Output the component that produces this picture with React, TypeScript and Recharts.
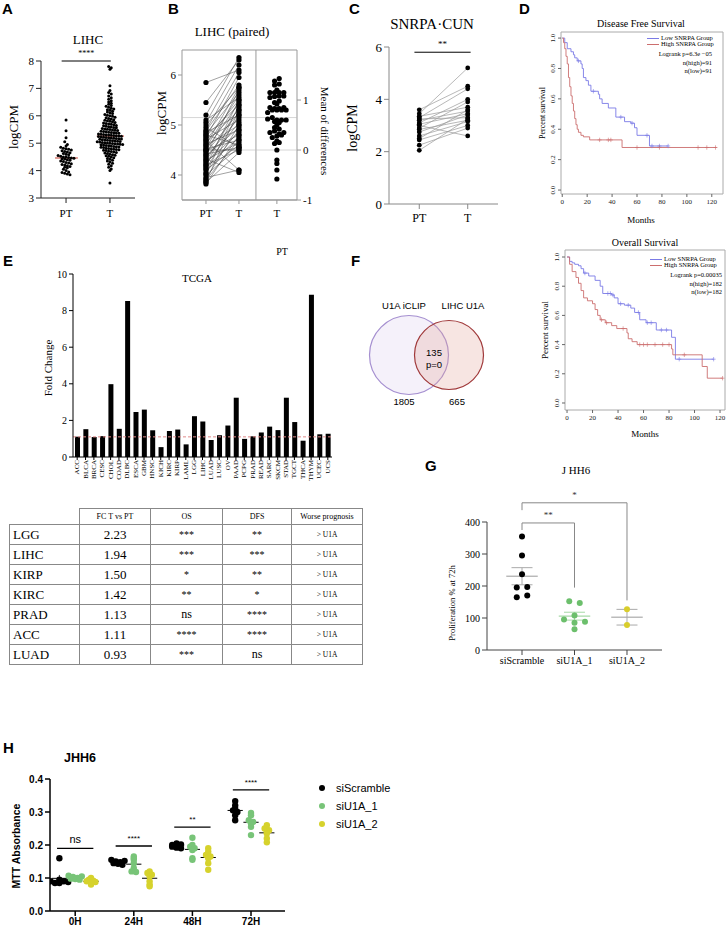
import React from 'react';
import {
  ComposedChart, BarChart, Bar, Line, Scatter, XAxis, YAxis, ReferenceLine, ReferenceArea,
} from 'recharts';

const SERIF = '"Liberation Serif", "Times New Roman", serif';
const SANS = '"Liberation Sans", Arial, sans-serif';

// ---------- Panel A: LIHC ----------
const lihcGroups = ['PT', 'T'];
const lihcPT = [5.85, 5.45, 5.2, 5.05, 4.95, 4.9, 4.85, 4.82, 4.8, 4.78, 4.75, 4.72, 4.7, 4.68, 4.65, 4.62, 4.6, 4.58, 4.55, 4.52, 4.5, 4.5, 4.48, 4.46, 4.45, 4.43, 4.42, 4.4, 4.38, 4.35, 4.33, 4.3, 4.28, 4.25, 4.22, 4.2, 4.18, 4.15, 4.12, 4.1, 4.05, 4.0, 3.95, 3.93, 3.9, 3.88, 3.85];
const lihcT = [7.8, 7.75, 7.7, 7.1, 6.92, 6.85, 6.8, 6.72, 6.66, 6.6, 6.55, 6.5, 6.46, 6.42, 6.38, 6.35, 6.31, 6.28, 6.25, 6.22, 6.2, 6.17, 6.14, 6.11, 6.08, 6.05, 6.02, 6.0, 5.98, 5.95, 5.93, 5.9, 5.88, 5.86, 5.84, 5.82, 5.8, 5.78, 5.76, 5.74, 5.72, 5.7, 5.69, 5.67, 5.65, 5.64, 5.62, 5.6, 5.59, 5.57, 5.56, 5.54, 5.52, 5.51, 5.5, 5.48, 5.47, 5.46, 5.44, 5.43, 5.42, 5.4, 5.39, 5.38, 5.37, 5.36, 5.34, 5.33, 5.32, 5.31, 5.3, 5.29, 5.28, 5.27, 5.26, 5.25, 5.24, 5.23, 5.22, 5.21, 5.2, 5.19, 5.18, 5.17, 5.16, 5.15, 5.14, 5.13, 5.12, 5.11, 5.1, 5.09, 5.08, 5.07, 5.06, 5.05, 5.04, 5.03, 5.02, 5.01, 5.0, 4.99, 4.98, 4.97, 4.96, 4.95, 4.94, 4.93, 4.92, 4.91, 4.9, 4.88, 4.87, 4.86, 4.85, 4.84, 4.82, 4.81, 4.8, 4.78, 4.77, 4.76, 4.74, 4.73, 4.71, 4.7, 4.68, 4.66, 4.64, 4.62, 4.6, 4.58, 4.56, 4.54, 4.52, 4.5, 4.47, 4.44, 4.41, 4.38, 4.35, 4.31, 4.27, 4.23, 4.18, 4.12, 4.06, 4.0, 3.55];

// ---------- Panel B: LIHC paired ----------
const pairedGroups = ['PT', 'T', 'T'];
const pairedPT = [5.85, 5.45, 5.2, 5.1, 5.05, 5.0, 4.95, 4.9, 4.88, 4.85, 4.82, 4.8, 4.78, 4.75, 4.72, 4.7, 4.68, 4.65, 4.62, 4.6, 4.58, 4.55, 4.52, 4.5, 4.48, 4.45, 4.42, 4.4, 4.38, 4.35, 4.32, 4.3, 4.28, 4.25, 4.22, 4.2, 4.18, 4.15, 4.12, 4.1, 4.05, 4.02, 4.0, 3.95, 3.92, 3.9, 3.87, 3.85, 3.82, 4.5];
const pairedT = [6.1, 6.3, 6.35, 5.55, 6.2, 5.75, 4.55, 6.05, 5.8, 5.2, 5.65, 4.6, 5.4, 5.95, 5.1, 5.5, 4.1, 5.3, 4.9, 5.75, 5.0, 5.6, 4.7, 5.45, 4.8, 5.25, 4.55, 5.7, 4.95, 5.15, 4.05, 4.65, 5.35, 4.85, 5.05, 4.5, 5.5, 4.75, 5.2, 4.6, 4.9, 5.4, 4.55, 4.1, 5.0, 4.7, 5.3, 4.45, 4.8, 4.5];

// ---------- Panel C: SNRPA CUN ----------
const cunGroups = ['PT', 'T'];
const cunPT = [3.6, 3.45, 3.35, 3.3, 3.25, 3.2, 3.1, 3.05, 3.0, 2.9, 2.85, 2.75, 2.6, 2.5, 2.45, 2.25, 2.05];
const cunT = [4.5, 5.2, 3.7, 4.4, 3.3, 3.55, 4.0, 3.45, 2.6, 3.9, 3.2, 3.4, 3.15, 3.6, 3.0, 2.9, 3.25];

// ---------- Panel D: survival ----------
const dfsLowTime = [0, 2, 4, 7, 9, 10, 12, 15, 16, 17, 19, 21, 23, 29, 30, 32, 37, 43, 50, 55, 58, 60, 70, 85];
const dfsLowSurv = [1, 0.97, 0.93, 0.91, 0.89, 0.87, 0.85, 0.83, 0.8, 0.74, 0.72, 0.69, 0.65, 0.63, 0.6, 0.57, 0.54, 0.48, 0.45, 0.44, 0.41, 0.36, 0.29, 0.29];
const dfsHighTime = [0, 1, 2, 3, 4, 5, 6, 7, 8, 9, 10, 11, 12, 13, 15, 17, 22, 48, 124];
const dfsHighSurv = [1, 0.97, 0.93, 0.88, 0.83, 0.74, 0.68, 0.62, 0.57, 0.52, 0.47, 0.43, 0.4, 0.38, 0.36, 0.35, 0.33, 0.28, 0.28];
const dfsLowCensor = [13, 25, 47, 56, 68, 72, 78, 85];
const dfsHighCensor = [30, 37, 39, 60, 78, 109, 116, 123];
const osLowTime = [0, 2, 4, 6, 9, 11, 13, 17, 22, 26, 28, 35, 37, 40, 45, 50, 53, 57, 62, 70, 82, 85, 115];
const osLowSurv = [1, 0.97, 0.96, 0.95, 0.94, 0.92, 0.89, 0.87, 0.84, 0.8, 0.75, 0.74, 0.72, 0.68, 0.67, 0.65, 0.62, 0.57, 0.55, 0.5, 0.45, 0.3, 0.3];
const osHighTime = [0, 2, 4, 7, 9, 11, 13, 16, 20, 22, 24, 26, 30, 35, 39, 47, 48, 51, 55, 82, 83, 106, 110, 122];
const osHighSurv = [1, 0.95, 0.9, 0.86, 0.82, 0.77, 0.72, 0.7, 0.68, 0.64, 0.6, 0.57, 0.55, 0.53, 0.51, 0.48, 0.44, 0.42, 0.4, 0.37, 0.33, 0.25, 0.17, 0.17];
const osLowCensor = [14, 32, 34, 36, 42, 48, 56, 63, 66, 74, 78, 88, 115];
const osHighCensor = [27, 31, 44, 57, 60, 63, 69, 75, 80, 92, 122];
const survTicksX = [0, 20, 40, 60, 80, 100, 120];
const survTicksY = [0, 0.2, 0.4, 0.6, 0.8, 1.0];

// ---------- Panel E: TCGA ----------
const tcgaCancers = ['ACC', 'BLCA', 'BRCA', 'CESC', 'CHOL', 'COAD', 'DLBC', 'ESCA', 'GBM', 'HNSC', 'KICH', 'KIRC', 'KIRP', 'LAML', 'LGG', 'LIHC', 'LUAD', 'LUSC', 'OV', 'PAAD', 'PCPG', 'PRAD', 'READ', 'SARC', 'SKCM', 'STAD', 'TGCT', 'THCA', 'THYM', 'UCEC', 'UCS'];
const tcgaFC = [1.11, 1.52, 1.09, 1.14, 3.98, 1.54, 8.52, 2.46, 2.59, 1.46, 0.54, 1.42, 1.5, 0.69, 2.23, 1.94, 0.93, 1.19, 1.72, 3.24, 0.99, 1.13, 1.34, 1.66, 1.47, 3.24, 1.91, 0.89, 8.87, 1.24, 1.27];
const tcgaThreshold = 1.1;
const tableHeader = ['', 'FC T vs PT', 'OS', 'DFS', 'Worse prognosis'];
const tableCancers = ['LGG', 'LIHC', 'KIRP', 'KIRC', 'PRAD', 'ACC', 'LUAD'];
const tableFC = ['2.23', '1.94', '1.50', '1.42', '1.13', '1.11', '0.93'];
const tableOS = ['***', '***', '*', '**', 'ns', '****', '***'];
const tableDFS = ['**', '***', '**', '*', '****', '****', 'ns'];
const tablePrognosis = ['> U1A', '> U1A', '> U1A', '> U1A', '> U1A', '> U1A', '> U1A'];

// ---------- Panel F: Venn ----------
const vennSets = ['U1A iCLIP', 'LIHC U1A'];
const vennOnly = [1805, 665];
const vennShared = 135;
const vennP = 'p=0';

// ---------- Panel G: proliferation ----------
const prolifGroups = ['siScramble', 'siU1A_1', 'siU1A_2'];
const prolifScramble = [355, 295, 237, 195, 197, 165, 170];
const prolifU1A1 = [152, 147, 95, 108, 85, 88, 65];
const prolifU1A2 = [127, 78];

// ---------- Panel H: MTT ----------
const mttTimes = ['0H', '24H', '48H', '72H'];
const mttSeries = ['siScramble', 'siU1A_1', 'siU1A_2'];
const mttScramble = [
  [0.16, 0.095, 0.09, 0.085, 0.085, 0.09, 0.088],
  [0.155, 0.15, 0.148, 0.145, 0.143, 0.14, 0.152],
  [0.205, 0.2, 0.198, 0.195, 0.192, 0.19, 0.202],
  [0.333, 0.32, 0.31, 0.305, 0.3, 0.29, 0.275],
];
const mttU1A1 = [
  [0.107, 0.103, 0.1, 0.098, 0.105, 0.097, 0.095],
  [0.165, 0.16, 0.155, 0.145, 0.13, 0.12, 0.118],
  [0.222, 0.2, 0.195, 0.19, 0.185, 0.16, 0.155],
  [0.297, 0.29, 0.275, 0.27, 0.265, 0.255, 0.23],
];
const mttU1A2 = [
  [0.1, 0.095, 0.09, 0.085, 0.08, 0.092, 0.088],
  [0.12, 0.115, 0.11, 0.105, 0.09, 0.08, 0.075],
  [0.19, 0.18, 0.17, 0.165, 0.16, 0.145, 0.125],
  [0.26, 0.25, 0.245, 0.24, 0.235, 0.22, 0.208],
];
const mttSigLabels = ['ns', '****', '**', '****'];
const mttSigLevels = [0.19, 0.197, 0.254, 0.367];

// ---------- helpers ----------
const mean = (a: number[]) => a.reduce((s, v) => s + v, 0) / a.length;
const median = (a: number[]) => {
  const s = [...a].sort((p, q) => p - q);
  const m = Math.floor(s.length / 2);
  return s.length % 2 ? s[m] : (s[m - 1] + s[m]) / 2;
};
const sem = (a: number[]) => {
  const m = mean(a);
  const v = a.reduce((s, x) => s + (x - m) * (x - m), 0) / (a.length - 1);
  return Math.sqrt(v) / Math.sqrt(a.length);
};
// deterministic beeswarm layout: values in the same bin are spread horizontally
function swarm(values: number[], center: number, bin: number, step: number) {
  const bins = new Map<number, number[]>();
  values.forEach((v) => {
    const k = Math.round(v / bin);
    if (!bins.has(k)) bins.set(k, []);
    bins.get(k)!.push(v);
  });
  const out: { x: number; y: number }[] = [];
  bins.forEach((list) => {
    const n = list.length;
    list.forEach((v, i) => out.push({ x: center + (i - (n - 1) / 2) * step, y: v }));
  });
  return out;
}
const stepAt = (times: number[], surv: number[], t: number) => {
  let s = surv[0];
  times.forEach((tt, i) => { if (tt <= t) s = surv[i]; });
  return s;
};
const dot = (r: number, fill: string) => (p: any) =>
  p.cx == null ? <g /> : <circle cx={p.cx} cy={p.cy} r={r} fill={fill} />;
const plus = (color: string) => (p: any) =>
  p.cx == null ? <g /> : (
    <path d={`M${p.cx - 2},${p.cy}H${p.cx + 2}M${p.cx},${p.cy - 2.2}V${p.cy + 2.2}`} stroke={color} strokeWidth={0.6} fill="none" />
  );

const Txt = (props: any) => {
  const { x, y, children, size = 11, family = SERIF, weight = 400, rot = 0, anchor = 'middle', color = '#000' } = props;
  const tx = anchor === 'middle' ? '-50%' : anchor === 'end' ? '-100%' : '0';
  return (
    <div style={{
      position: 'absolute', left: x, top: y, transform: `translate(${tx},-50%) rotate(${rot}deg)`,
      fontSize: size, fontFamily: family, fontWeight: weight, whiteSpace: 'nowrap', lineHeight: 1, color,
    }}>{children}</div>
  );
};
const PanelLabel = ({ x, y, t }: any) => <Txt x={x} y={y} size={15} family={SANS} weight={700} anchor="start">{t}</Txt>;

const serifTick = (size: number, fill = '#000') => ({ fontSize: size, fill, fontFamily: SERIF });

// ---------- Panel A ----------
function PanelA() {
  const pts = [...swarm(lihcPT, 0, 0.1, 0.06), ...swarm(lihcT, 1, 0.1, 0.058)];
  const mPT = median(lihcPT);
  const mT = median(lihcT);
  return (
    <div style={{ position: 'absolute', left: 0, top: 0 }}>
      <ComposedChart width={170} height={224} margin={{ top: 61, right: 35, bottom: 0, left: 0 }}>
        <XAxis type="number" dataKey="x" domain={[-0.57, 1.57]} ticks={[0, 1]} tickFormatter={(v: any) => lihcGroups[v]}
          height={26} allowDataOverflow stroke="#222" tick={serifTick(11)} tickSize={5} tickMargin={6} />
        <YAxis type="number" dataKey="y" domain={[3, 8]} ticks={[3, 4, 5, 6, 7, 8]} width={41} allowDataOverflow
          stroke="#222" tick={serifTick(11)} tickSize={5} />
        <Scatter data={pts} dataKey="y" shape={dot(1.5, '#000')} isAnimationActive={false} />
        <ReferenceLine segment={[{ x: -0.25, y: mPT }, { x: 0.27, y: mPT }]} stroke="#c0392b" strokeWidth={1} />
        <ReferenceLine segment={[{ x: 0.7, y: mT }, { x: 1.32, y: mT }]} stroke="#c0392b" strokeWidth={1} />
        <ReferenceLine segment={[{ x: -0.1, y: 8 }, { x: 1.02, y: 8 }]} stroke="#000" ifOverflow="visible"
          label={{ value: '****', position: 'top', fontSize: 8, fill: '#000' }} />
      </ComposedChart>
    </div>
  );
}

// ---------- Panel B ----------
function PanelB() {
  const mPT = mean(pairedPT);
  const mT = mean(pairedT);
  const diffs = pairedPT.map((p, i) => pairedT[i] - p);
  const rDom = [3.5 - mPT, 6.5 - mPT];
  const ptDots = pairedPT.map((v) => ({ x: 0, y: v }));
  const tDots = pairedT.map((v) => ({ x: 1, y: v }));
  const diffDots = swarm(diffs, 2.15, 0.07, 0.14);
  return (
    <div style={{ position: 'absolute', left: 130, top: 0 }}>
      <ComposedChart width={187} height={226} margin={{ top: 50, right: 0, bottom: 0, left: 0 }}>
        <XAxis type="number" dataKey="x" domain={[-0.727, 2.76]} ticks={[0, 1, 2.15]}
          tickFormatter={(v: any) => pairedGroups[v === 0 ? 0 : v === 1 ? 1 : 2]}
          height={26} allowDataOverflow stroke="#999" tick={serifTick(11)} tickSize={4} tickMargin={5} />
        <YAxis yAxisId="l" type="number" dataKey="y" domain={[3.5, 6.5]} ticks={[4, 5, 6]} width={52} allowDataOverflow
          axisLine={false} tickLine={{ stroke: '#999' }} tickSize={4} tick={serifTick(11)} />
        <YAxis yAxisId="r" orientation="right" type="number" dataKey="y" domain={rDom} ticks={[-1, 0, 1]} width={20}
          allowDataOverflow axisLine={false} tickLine={{ stroke: '#999' }} tickSize={4} tick={serifTick(11)} />
        <ReferenceArea yAxisId="l" x1={-0.727} x2={2.76} y1={3.5} y2={6.5} fill="none" stroke="#999" ifOverflow="visible" />
        <ReferenceLine yAxisId="l" x={1.515} stroke="#999" />
        <ReferenceLine yAxisId="l" y={mPT} stroke="#bbb" strokeWidth={0.6} />
        <ReferenceLine yAxisId="l" y={mT} stroke="#bbb" strokeWidth={0.6} />
        {pairedPT.map((p, i) => (
          <Line key={i} yAxisId="l" data={[{ x: 0, y: p }, { x: 1, y: pairedT[i] }]} dataKey="y" stroke="#444"
            strokeWidth={0.5} dot={false} isAnimationActive={false} />
        ))}
        <Scatter yAxisId="l" data={ptDots} dataKey="y" shape={dot(2.6, '#000')} isAnimationActive={false} />
        <Scatter yAxisId="l" data={tDots} dataKey="y" shape={dot(2.6, '#000')} isAnimationActive={false} />
        <Scatter yAxisId="r" data={diffDots} dataKey="y" shape={dot(2.6, '#000')} isAnimationActive={false} />
      </ComposedChart>
    </div>
  );
}

// ---------- Panel C ----------
function PanelC() {
  const ptDots = cunPT.map((v) => ({ x: 0, y: v }));
  const tDots = cunT.map((v) => ({ x: 1, y: v }));
  return (
    <div style={{ position: 'absolute', left: 360, top: 0 }}>
      <ComposedChart width={138} height={228} margin={{ top: 47, right: 0, bottom: 0, left: 0 }}>
        <XAxis type="number" dataKey="x" domain={[-0.625, 1.625]} ticks={[0, 1]} tickFormatter={(v: any) => cunGroups[v]}
          height={24} allowDataOverflow stroke="#888" tick={serifTick(12)} tickSize={5} tickMargin={4} />
        <YAxis type="number" dataKey="y" domain={[0, 6]} ticks={[0, 2, 4, 6]} width={29} allowDataOverflow
          stroke="#888" tick={serifTick(13)} tickSize={5} />
        {cunPT.map((p, i) => (
          <Line key={i} data={[{ x: 0, y: p }, { x: 1, y: cunT[i] }]} dataKey="y" stroke="#999"
            strokeWidth={0.7} dot={false} isAnimationActive={false} />
        ))}
        <Scatter data={ptDots} dataKey="y" shape={dot(2.4, '#000')} isAnimationActive={false} />
        <Scatter data={tDots} dataKey="y" shape={dot(2.4, '#000')} isAnimationActive={false} />
        <ReferenceLine segment={[{ x: -0.1, y: 5.8 }, { x: 1.06, y: 5.8 }]} stroke="#000" ifOverflow="visible"
          label={{ value: '**', position: 'top', fontSize: 9, fill: '#000' }} />
      </ComposedChart>
    </div>
  );
}

// ---------- Panel D ----------
const BLUE = '#7b7be6';
const RED = '#cc6e6e';
const YRotTick = (p: any) => (
  <text x={p.x - 1} y={p.y} transform={`rotate(-90 ${p.x - 1} ${p.y})`} textAnchor="middle" fontSize={7}
    fontFamily={SERIF} fill="#222">{Number(p.payload.value).toFixed(1)}</text>
);
function KM(props: any) {
  const { left, top, width, height, mTop, yW, xDom, yDom, lowT, lowS, highT, highS, lowC, highC } = props;
  const lowData = lowT.map((t: number, i: number) => ({ x: t, y: lowS[i] }));
  const highData = highT.map((t: number, i: number) => ({ x: t, y: highS[i] }));
  const lowCens = lowC.map((t: number) => ({ x: t, y: stepAt(lowT, lowS, t) }));
  const highCens = highC.map((t: number) => ({ x: t, y: stepAt(highT, highS, t) }));
  return (
    <div style={{ position: 'absolute', left, top }}>
      <ComposedChart width={width} height={height} margin={{ top: mTop, right: 1, bottom: 0, left: 0 }}>
        <XAxis type="number" dataKey="x" domain={xDom} ticks={survTicksX} height={18} allowDataOverflow
          axisLine={false} tickLine={{ stroke: '#666' }} tickSize={3} tick={serifTick(7, '#222')} />
        <YAxis type="number" dataKey="y" domain={yDom} ticks={survTicksY} width={yW} allowDataOverflow
          axisLine={false} tickLine={{ stroke: '#666' }} tickSize={3} tick={<YRotTick />} />
        <ReferenceArea x1={xDom[0]} x2={xDom[1]} y1={yDom[0]} y2={yDom[1]} fill="none" stroke="#aaa" ifOverflow="visible" />
        <Line data={lowData} dataKey="y" type="stepAfter" stroke={BLUE} strokeWidth={0.9} dot={false} isAnimationActive={false} />
        <Line data={highData} dataKey="y" type="stepAfter" stroke={RED} strokeWidth={0.9} dot={false} isAnimationActive={false} />
        <Scatter data={lowCens} dataKey="y" shape={plus(BLUE)} isAnimationActive={false} />
        <Scatter data={highCens} dataKey="y" shape={plus(RED)} isAnimationActive={false} />
      </ComposedChart>
    </div>
  );
}
const KMLegend = ({ x, y, rightX, stats }: any) => (
  <>
    <div style={{ position: 'absolute', left: x, top: y, width: 12, borderTop: `1px solid ${BLUE}` }} />
    <div style={{ position: 'absolute', left: x, top: y + 6, width: 12, borderTop: `1px solid ${RED}` }} />
    <Txt x={x + 14} y={y} size={6.5} anchor="start">Low SNRPA Group</Txt>
    <Txt x={x + 14} y={y + 6} size={6.5} anchor="start">High SNRPA Group</Txt>
    {stats.map((s: string, i: number) => (
      <Txt key={i} x={rightX} y={y + 16 + i * 8.5} size={6.5} anchor="end">{s}</Txt>
    ))}
  </>
);

// ---------- Panel E ----------
const RotTick = (p: any) => (
  <text x={p.x + 2} y={p.y - 2} transform={`rotate(-90 ${p.x + 2} ${p.y - 2})`} textAnchor="end" fontSize={7}
    fontFamily={SERIF} fill="#000">{p.payload.value}</text>
);
function PanelE() {
  const data = tcgaCancers.map((c, i) => ({ name: c, fc: tcgaFC[i] }));
  return (
    <div style={{ position: 'absolute', left: 0, top: 250 }}>
      <BarChart width={340} height={252} data={data} margin={{ top: 24, right: 8, bottom: 0, left: 0 }} barCategoryGap={1}>
        <XAxis dataKey="name" interval={0} height={45} stroke="#000" tick={<RotTick />} tickSize={3} />
        <YAxis domain={[0, 10]} ticks={[0, 2, 4, 6, 8, 10]} width={73} allowDataOverflow stroke="#000"
          tick={serifTick(10)} tickSize={4} />
        <Bar dataKey="fc" fill="#000" barSize={5} isAnimationActive={false} />
        <ReferenceLine y={tcgaThreshold} stroke="#e08a8a" strokeDasharray="3 2" strokeWidth={1} />
      </BarChart>
    </div>
  );
}
function TableE() {
  const cell: any = { border: '1px solid #888', padding: 0, textAlign: 'center', fontFamily: SERIF, verticalAlign: 'middle' };
  const widths = [70, 71, 72, 69, 71];
  return (
    <table style={{ position: 'absolute', left: 9, top: 508, borderCollapse: 'collapse', tableLayout: 'fixed', width: 353 }}>
      <colgroup>{widths.map((w, i) => <col key={i} style={{ width: w }} />)}</colgroup>
      <tbody>
        <tr style={{ height: 16 }}>
          {tableHeader.map((h, i) => (
            <td key={i} style={i === 0 ? { ...cell, borderTop: 'none', borderLeft: 'none' } : { ...cell, fontSize: 8 }}>{h}</td>
          ))}
        </tr>
        {tableCancers.map((c, i) => (
          <tr key={c} style={{ height: 20 }}>
            <td style={{ ...cell, textAlign: 'left', paddingLeft: 3, fontSize: 13 }}>{c}</td>
            <td style={{ ...cell, fontSize: 13 }}>{tableFC[i]}</td>
            <td style={{ ...cell, fontSize: tableOS[i] === 'ns' ? 12 : 10 }}>{tableOS[i]}</td>
            <td style={{ ...cell, fontSize: tableDFS[i] === 'ns' ? 12 : 10 }}>{tableDFS[i]}</td>
            <td style={{ ...cell, fontSize: 7.5 }}>{tablePrognosis[i]}</td>
          </tr>
        ))}
      </tbody>
    </table>
  );
}

// ---------- Panel F ----------
function PanelF() {
  const circles = [
    { x: 49, y: 65, r: 39.5, fill: 'rgba(215,200,235,0.25)', stroke: '#a58fd0' },
    { x: 89, y: 65, r: 34.5, fill: 'rgba(225,160,150,0.28)', stroke: '#a0393a' },
  ];
  const shape = (p: any) => {
    const c = p.payload;
    return <circle cx={p.cx} cy={p.cy} r={c.r} fill={c.fill} stroke={c.stroke} strokeWidth={1.2} />;
  };
  return (
    <div style={{ position: 'absolute', left: 360, top: 290 }}>
      <ComposedChart width={140} height={130} margin={{ top: 0, right: 0, bottom: 0, left: 0 }}>
        <XAxis type="number" dataKey="x" domain={[0, 140]} hide allowDataOverflow />
        <YAxis type="number" dataKey="y" domain={[0, 130]} hide allowDataOverflow />
        <Scatter data={circles} dataKey="y" shape={shape} isAnimationActive={false} />
      </ComposedChart>
    </div>
  );
}

// ---------- Panel G ----------
function PanelG() {
  const groups = [prolifScramble, prolifU1A1, prolifU1A2];
  const colors = ['#000', '#6cbf6c', '#d8cd2c'];
  const lineColors = ['#aaa', '#a6d9a6', '#aaa'];
  return (
    <div style={{ position: 'absolute', left: 430, top: 440 }}>
      <ComposedChart width={242} height={230} margin={{ top: 82, right: 10, bottom: 0, left: 0 }}>
        <XAxis type="number" dataKey="x" domain={[-0.667, 2.667]} ticks={[0, 1, 2]} tickFormatter={(v: any) => prolifGroups[v]}
          height={20} allowDataOverflow stroke="#444" tick={serifTick(10)} tickSize={5} />
        <YAxis type="number" dataKey="y" domain={[0, 400]} ticks={[0, 100, 200, 300, 400]} width={57} allowDataOverflow
          stroke="#444" tick={serifTick(10)} tickSize={5} />
        {groups.map((g, i) => {
          const m = mean(g);
          const s = sem(g);
          return (
            <React.Fragment key={i}>
              <ReferenceLine segment={[{ x: i - 0.3, y: m }, { x: i + 0.3, y: m }]} stroke={lineColors[i]} strokeWidth={1.2} />
              <ReferenceLine segment={[{ x: i, y: m - s }, { x: i, y: m + s }]} stroke={lineColors[i]} strokeWidth={1} />
              <ReferenceLine segment={[{ x: i - 0.2, y: m + s }, { x: i + 0.2, y: m + s }]} stroke={lineColors[i]} strokeWidth={1} />
              <ReferenceLine segment={[{ x: i - 0.2, y: m - s }, { x: i + 0.2, y: m - s }]} stroke={lineColors[i]} strokeWidth={1} />
            </React.Fragment>
          );
        })}
        {groups.map((g, i) => (
          <Scatter key={i} data={swarm(g, i, 15, 0.2)} dataKey="y" shape={dot(3, colors[i])} isAnimationActive={false} />
        ))}
        <ReferenceLine segment={[{ x: 0, y: 397 }, { x: 1, y: 397 }]} stroke="#888" ifOverflow="visible"
          label={{ value: '**', position: 'top', fontSize: 9, fill: '#333' }} />
        <ReferenceLine segment={[{ x: 0, y: 397 }, { x: 0, y: 375 }]} stroke="#888" ifOverflow="visible" />
        <ReferenceLine segment={[{ x: 1, y: 397 }, { x: 1, y: 195 }]} stroke="#888" ifOverflow="visible" />
        <ReferenceLine segment={[{ x: 0, y: 460 }, { x: 2, y: 460 }]} stroke="#888" ifOverflow="visible"
          label={{ value: '*', position: 'top', fontSize: 9, fill: '#333' }} />
        <ReferenceLine segment={[{ x: 0, y: 460 }, { x: 0, y: 437 }]} stroke="#888" ifOverflow="visible" />
        <ReferenceLine segment={[{ x: 2, y: 460 }, { x: 2, y: 155 }]} stroke="#888" ifOverflow="visible" />
      </ComposedChart>
    </div>
  );
}

// ---------- Panel H ----------
function PanelH() {
  const series = [mttScramble, mttU1A1, mttU1A2];
  const colors = ['#000', '#78c478', '#d6d22c'];
  const offsets = [-0.27, 0, 0.27];
  const boldTick = (size: number) => ({ fontSize: size, fill: '#000', fontFamily: SANS, fontWeight: 700 });
  return (
    <div style={{ position: 'absolute', left: 0, top: 740 }}>
      <ComposedChart width={290} height={193} margin={{ top: 39, right: 5, bottom: 0, left: 0 }}>
        <XAxis type="number" dataKey="x" domain={[-0.43, 3.58]} ticks={[0, 1, 2, 3]} tickFormatter={(v: any) => mttTimes[v]}
          height={22} allowDataOverflow stroke="#000" strokeWidth={1.5} tick={boldTick(10)} tickSize={5} />
        <YAxis type="number" dataKey="y" domain={[0, 0.4]} ticks={[0, 0.1, 0.2, 0.3, 0.4]} tickFormatter={(v: any) => Number(v).toFixed(1)}
          width={50} allowDataOverflow stroke="#000" strokeWidth={1.5} tick={boldTick(10)} tickSize={5} />
        {series.map((s, k) => (
          <Scatter key={k}
            data={s.flatMap((vals, t) => swarm(vals, t + offsets[k], 0.008, 0.075))}
            dataKey="y" shape={dot(3.2, colors[k])} isAnimationActive={false} />
        ))}
        {series.map((s, k) => s.map((vals, t) => {
          const m = mean(vals);
          const e = sem(vals);
          const cx = t + offsets[k];
          return (
            <React.Fragment key={`${k}-${t}`}>
              <ReferenceLine segment={[{ x: cx - 0.13, y: m }, { x: cx + 0.13, y: m }]} stroke="#000" strokeWidth={1} />
              <ReferenceLine segment={[{ x: cx, y: m - e }, { x: cx, y: m + e }]} stroke="#000" strokeWidth={0.8} />
            </React.Fragment>
          );
        }))}
        {mttSigLevels.map((lv, t) => (
          <ReferenceLine key={t} segment={[{ x: t - 0.31, y: lv }, { x: t + 0.31, y: lv }]} stroke="#000" strokeWidth={1.3}
            ifOverflow="visible"
            label={{ value: mttSigLabels[t], position: 'top', fontSize: t === 0 ? 11 : 8, fill: '#000', fontFamily: SANS }} />
        ))}
      </ComposedChart>
    </div>
  );
}

export default function App() {
  const hColors = ['#000', '#78c478', '#d6d22c'];
  return (
    <div style={{ position: 'absolute', left: 0, top: 0, width: 726, height: 939, background: '#fff', overflow: 'hidden', fontFamily: SERIF }}>
      {/* Panel labels */}
      <PanelLabel x={2} y={8} t="A" />
      <PanelLabel x={168} y={8} t="B" />
      <PanelLabel x={349} y={8} t="C" />
      <PanelLabel x={519} y={8} t="D" />
      <PanelLabel x={3} y={260} t="E" />
      <PanelLabel x={351} y={260} t="F" />
      <PanelLabel x={425} y={465} t="G" />
      <PanelLabel x={3} y={747} t="H" />

      {/* A */}
      <Txt x={88} y={39} size={13}>LIHC</Txt>
      <Txt x={13} y={127} size={13} rot={-90}>logCPM</Txt>
      <PanelA />

      {/* B */}
      <Txt x={232} y={31} size={13}>LIHC (paired)</Txt>
      <Txt x={161} y={113} size={13} rot={-90}>logCPM</Txt>
      <Txt x={324} y={131} size={11} rot={90}>Mean of differences</Txt>
      <PanelB />

      {/* C */}
      <Txt x={432} y={24} size={15}>SNRPA·CUN</Txt>
      <Txt x={353} y={128} size={14} rot={-90}>logCPM</Txt>
      <PanelC />

      {/* D */}
      <Txt x={641} y={24} size={10}>Disease Free Survival</Txt>
      <Txt x={543} y={113} size={8} rot={-90}>Percent survival</Txt>
      <Txt x={641} y={220} size={9}>Months</Txt>
      <KM left={540} top={0} width={184} height={212} mTop={32} yW={21} xDom={[-1, 129]} yDom={[-0.026, 1.04]}
        lowT={dfsLowTime} lowS={dfsLowSurv} highT={dfsHighTime} highS={dfsHighSurv} lowC={dfsLowCensor} highC={dfsHighCensor} />
      <KMLegend x={647} y={38} rightX={712} stats={['Logrank p=6.3e \u221205', 'n(high)=91', 'n(low)=91']} />

      <Txt x={645} y={243} size={10}>Overall Survival</Txt>
      <Txt x={545} y={330} size={9} rot={-90}>Percent survival</Txt>
      <Txt x={645} y={434} size={9}>Months</Txt>
      <KM left={540} top={230} width={186} height={198} mTop={20} yW={25} xDom={[-1.6, 123.9]} yDom={[-0.048, 1.048]}
        lowT={osLowTime} lowS={osLowSurv} highT={osHighTime} highS={osHighSurv} lowC={osLowCensor} highC={osHighCensor} />
      <KMLegend x={650} y={259} rightX={722} stats={['Logrank p=0.00035', 'n(high)=182', 'n(low)=182']} />

      {/* E */}
      <Txt x={282} y={252} size={10}>PT</Txt>
      <Txt x={197} y={278} size={11}>TCGA</Txt>
      <Txt x={48} y={368} size={11} rot={-90}>Fold Change</Txt>
      <PanelE />
      <TableE />

      {/* F */}
      <PanelF />
      <Txt x={404} y={306} size={9.5} family={SANS}>{vennSets[0]}</Txt>
      <Txt x={463} y={306} size={9.5} family={SANS}>{vennSets[1]}</Txt>
      <Txt x={434} y={353} size={9.5} family={SANS}>{vennShared}</Txt>
      <Txt x={434} y={365} size={9.5} family={SANS}>{vennP}</Txt>
      <Txt x={404} y={402} size={9.5} family={SANS}>{vennOnly[0]}</Txt>
      <Txt x={457} y={402} size={9.5} family={SANS}>{vennOnly[1]}</Txt>

      {/* G */}
      <Txt x={576} y={470} size={11}>J HH6</Txt>
      <Txt x={452} y={603} size={8.5} rot={-90}>Proliferation % at 72h</Txt>
      <PanelG />

      {/* H */}
      <Txt x={80} y={758} size={12.5} family={SANS} weight={700}>JHH6</Txt>
      <Txt x={16} y={846} size={10.5} family={SANS} weight={700} rot={-90}>MTT Absorbance</Txt>
      <PanelH />
      {mttSeries.map((s, i) => (
        <React.Fragment key={s}>
          <div style={{ position: 'absolute', left: 319, top: 785 + i * 18, width: 6, height: 6, borderRadius: 3, background: hColors[i] }} />
          <Txt x={336} y={788 + i * 18} size={11} family={SANS} anchor="start">{s}</Txt>
        </React.Fragment>
      ))}
    </div>
  );
}
